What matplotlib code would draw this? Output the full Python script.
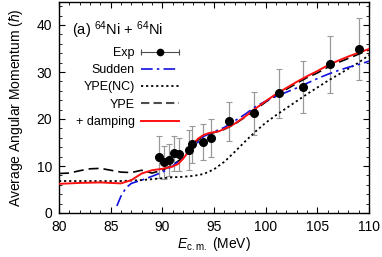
import numpy as np
import matplotlib
matplotlib.use("Agg")
import matplotlib.pyplot as plt
from matplotlib.lines import Line2D
from matplotlib.legend_handler import HandlerBase
from matplotlib.ticker import MultipleLocator

plt.rcParams['font.family'] = ['Liberation Sans', 'DejaVu Sans']
plt.rcParams['mathtext.fontset'] = 'custom'
plt.rcParams['mathtext.rm'] = 'Liberation Sans'
plt.rcParams['mathtext.it'] = 'Liberation Sans:italic'

# experimental points
exp_E = [89.7, 90.2, 90.65, 91.1, 91.6, 92.6, 92.9, 93.9, 94.7, 96.45, 98.9, 101.3, 103.6, 106.2, 109.0]
exp_L = [11.9, 10.8, 11.2, 12.7, 12.5, 13.4, 14.6, 15.1, 15.9, 19.5, 21.2, 25.5, 26.8, 31.6, 34.8]
exp_err = [4.5, 3.5, 3.4, 3.7, 3.5, 4.2, 3.9, 3.8, 4.0, 4.1, 4.5, 5.2, 5.5, 6.1, 6.6]

# sudden approximation
sud_E = [85.6, 86.0, 86.5, 87.0, 88.0, 89.0, 90.0, 91.0, 92.0, 93.0, 94.0, 95.0, 96.0, 97.0,
         98.0, 99.0, 100.0, 101.0, 102.0, 103.0, 104.0, 105.0, 106.0, 107.0, 108.0, 109.0, 110.0]
sud_L = [1.5, 3.6, 5.4, 6.3, 7.0, 7.8, 8.7, 10.0, 11.8, 14.0, 16.3, 17.3, 18.2, 19.6,
         21.0, 22.6, 23.8, 24.8, 25.7, 26.6, 27.6, 28.6, 29.5, 30.3, 31.0, 31.6, 32.3]

# YPE without coupling
nc_E = [80, 82, 84, 86, 88, 90, 91, 92, 93, 94, 95, 96, 97, 98, 99, 100, 101, 102, 103,
        104, 105, 106, 107, 108, 109, 110]
nc_L = [6.8, 6.8, 6.8, 6.8, 7.0, 7.4, 7.6, 7.7, 7.9, 8.3, 9.3, 10.9, 13.0, 15.2, 17.3, 19.2,
        20.8, 22.3, 23.8, 25.3, 26.7, 28.1, 29.4, 30.7, 32.0, 33.6]

# YPE
ype_E = [80, 81, 82, 83, 84, 85, 86, 87, 88, 89, 90, 91, 92, 93, 94, 95, 96, 97, 98, 99,
         100, 101, 102, 103, 104, 105, 106, 107, 108, 109, 110]
ype_L = [8.4, 8.5, 9.0, 9.4, 9.5, 9.1, 8.7, 8.6, 9.1, 8.5, 9.1, 10.2, 11.8, 14.6, 16.6, 17.1,
         17.8, 18.9, 20.4, 22.0, 23.6, 25.0, 26.3, 27.6, 28.8, 29.8, 31.0, 32.0, 32.9, 33.8, 34.7]

# YPE + damping
dmp_E = [80, 82, 84, 86, 87, 88, 89, 90, 91, 91.5, 92, 92.5, 93, 93.5, 94, 94.5, 95, 95.5,
         96, 96.5, 97, 98, 99, 100, 101, 102, 103, 104, 105, 106, 107, 108, 109, 110]
dmp_L = [6.2, 6.4, 6.5, 6.3, 7.0, 8.4, 9.1, 9.4, 9.9, 10.4, 11.5, 13.0, 14.8, 15.9, 16.6, 17.0,
         17.2, 17.4, 17.9, 18.4, 19.0, 20.5, 22.2, 23.8, 25.3, 26.6, 27.9, 29.1, 30.2, 31.4,
         32.4, 33.3, 34.1, 34.9]


class ExpHandler(HandlerBase):
    def create_artists(self, legend, orig_handle, xdescent, ydescent, width, height, fontsize, trans):
        y = 0.5 * height - ydescent
        x0, x1 = -xdescent, width - xdescent
        ln = Line2D([x0, x1], [y, y], color='0.3', lw=0.8)
        caps = Line2D([x0, x1], [y, y], ls='none', marker='|', ms=4, mew=0.8, color='0.3')
        dot = Line2D([0.5 * (x0 + x1)], [y], ls='none', marker='o', ms=4.5, color='k')
        for a in (ln, caps, dot):
            a.set_transform(trans)
        return [ln, caps, dot]


fig = plt.figure(figsize=(3.82, 2.57), dpi=100)
ax = fig.add_axes([59 / 382, 1 - 213 / 257, 310 / 382, 211.5 / 257])

ax.errorbar(exp_E, exp_L, yerr=exp_err, fmt='none', ecolor='0.6', elinewidth=0.9,
            capsize=2.5, capthick=0.8, zorder=2)
ax.plot(nc_E, nc_L, color='k', ls=(0, (1.2, 1.6)), lw=1.3, zorder=3)
ax.plot(ype_E, ype_L, color='k', ls=(0, (6, 3)), lw=1.2, zorder=3)
ax.plot(sud_E, sud_L, color='#1010e0', ls=(0, (7, 2.5, 1.5, 2.5)), lw=1.2, zorder=4)
ax.plot(dmp_E, dmp_L, color='#ff1010', lw=1.4, zorder=5)
ax.plot(exp_E, exp_L, 'o', color='k', ms=5.5, zorder=6)

ax.set_xlim(80, 110)
ax.set_ylim(0, 45)
ax.xaxis.set_major_locator(MultipleLocator(5))
ax.xaxis.set_minor_locator(MultipleLocator(1))
ax.yaxis.set_major_locator(MultipleLocator(10))
ax.yaxis.set_minor_locator(MultipleLocator(2))
ax.tick_params(which='both', direction='in', top=True, right=True, labelsize=10)
ax.tick_params(which='major', length=4, width=0.8, pad=5)
ax.tick_params(which='minor', length=2, width=0.6)
for s in ax.spines.values():
    s.set_linewidth(1.0)

ax.set_xlabel(r'$E_{\rm c.m.}$ (MeV)', fontsize=10, labelpad=1)
ax.set_ylabel(r'Average Angular Momentum $(\hbar)$', fontsize=10, labelpad=8)

ax.text(0.042, 0.865, r'(a) $^{64}$Ni + $^{64}$Ni', transform=ax.transAxes, fontsize=10.5,
        va='center', ha='left')

handles = [
    Line2D([], [], color='k'),
    Line2D([], [], color='#1010e0', ls=(0, (7, 2.5, 1.5, 2.5)), lw=1.2),
    Line2D([], [], color='k', ls=(0, (1.2, 1.6)), lw=1.3),
    Line2D([], [], color='0.3', ls=(0, (4, 2)), lw=1.5),
    Line2D([], [], color='#ff1010', lw=1.4),
]
labels = ['Exp', 'Sudden', 'YPE(NC)', 'YPE', '+ damping']
ax.legend(handles, labels, loc='upper right', bbox_to_anchor=(0.387, 0.785), frameon=False,
          markerfirst=False, fontsize=9, handlelength=3.0, handletextpad=0.55,
          labelspacing=0.42, borderpad=0, borderaxespad=0,
          handler_map={handles[0]: ExpHandler()})

fig.savefig('out.png', dpi=100)
